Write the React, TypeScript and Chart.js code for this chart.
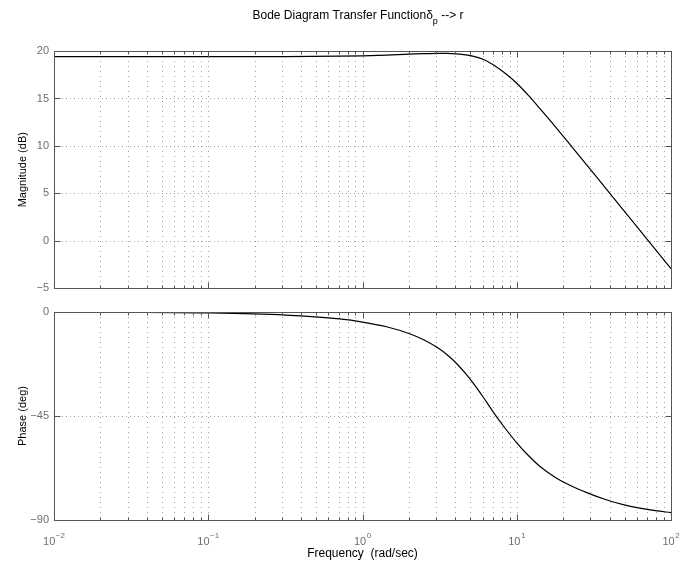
import React, { useEffect, useRef } from 'react';
import { Chart, registerables } from 'chart.js';

Chart.register(...registerables);

const FONT = "'Liberation Sans', Arial, Helvetica, sans-serif";

// ---- text ----
const titleMain = 'Bode Diagram Transfer Function\u03B4';
const titleSub = 'p';
const titleTail = ' --> r';
const magLabel = 'Magnitude (dB)';
const phaseLabel = 'Phase (deg)';
const freqLabel = 'Frequency  (rad/sec)';

// ---- data ----
const magFreq = [0.01, 0.1, 0.316, 0.708, 1, 1.43, 2.04, 2.51, 3.04, 3.55, 4.1, 4.68, 5.25, 6.1, 7.08, 8.41, 10, 11.9, 14.1, 17.7, 22.1, 29, 38, 49, 62.7, 79.4, 100];
const magDb = [19.4, 19.4, 19.41, 19.45, 19.49, 19.57, 19.67, 19.73, 19.76, 19.76, 19.7, 19.59, 19.44, 19.1, 18.52, 17.65, 16.6, 15.32, 13.95, 12.07, 10.17, 7.83, 5.48, 3.28, 1.14, -0.92, -2.92];

const phaseFreq = [0.01, 0.0316, 0.1, 0.316, 0.708, 1, 1.43, 2.04, 2.51, 3.04, 3.55, 4.1, 4.68, 5.25, 6.1, 7.08, 8.41, 10, 11.9, 14.1, 17.7, 22.1, 29, 38, 49, 62.7, 79.4, 100];
const phaseDeg = [-0.04, -0.13, -0.4, -1.35, -3.0, -4.35, -6.4, -9.5, -12.1, -15.3, -18.6, -22.5, -26.8, -31.0, -37.1, -43.5, -50.3, -56.6, -62.1, -66.76, -71.5, -74.95, -78.37, -81.26, -83.35, -84.85, -85.96, -86.8];

// ---- ticks ----
const magTicks = [-5, 0, 5, 10, 15, 20];
const magTickLabels = ['\u22125', '0', '5', '10', '15', '20'];
const phaseTicks = [-90, -45, 0];
const phaseTickLabels = ['\u221290', '\u221245', '0'];
const decadeExps = [-2, -1, 0, 1, 2];
const minorMults = [2, 3, 4, 5, 6, 7, 8, 9];

const xMajor = decadeExps.map((e) => Math.pow(10, e));
const xMinor: number[] = [];
decadeExps.slice(0, -1).forEach((e) => minorMults.forEach((m) => xMinor.push(m * Math.pow(10, e))));

function decorPlugin(yTicks: number[], showXLabels: boolean, showTitle: boolean) {
  return {
    id: 'bodeDecor',
    beforeDatasetsDraw(chart: any) {
      const { ctx, chartArea: a, scales } = chart;
      const xs = scales.x;
      const ys = scales.y;
      ctx.save();
      ctx.strokeStyle = '#a2a2a2';
      ctx.lineWidth = 1;
      ctx.setLineDash([1, 4]);
      ctx.beginPath();
      for (const v of [...xMajor, ...xMinor]) {
        const px = Math.round(xs.getPixelForValue(v)) + 0.5;
        if (px <= a.left + 1 || px >= a.right - 1) continue;
        ctx.moveTo(px, a.top);
        ctx.lineTo(px, a.bottom);
      }
      ctx.stroke();
      ctx.setLineDash([1, 3]);
      ctx.beginPath();
      for (const v of yTicks) {
        const py = Math.round(ys.getPixelForValue(v)) + 0.5;
        if (py <= a.top + 1 || py >= a.bottom - 1) continue;
        ctx.moveTo(a.left, py);
        ctx.lineTo(a.right, py);
      }
      ctx.stroke();
      ctx.restore();
    },
    afterDraw(chart: any) {
      const { ctx, chartArea: a, scales } = chart;
      const xs = scales.x;
      const ys = scales.y;
      const L = Math.round(a.left) + 0.5;
      const R = Math.round(a.right) + 0.5;
      const T = Math.round(a.top) + 0.5;
      const B = Math.round(a.bottom) + 0.5;
      ctx.save();
      ctx.strokeStyle = '#555';
      ctx.lineWidth = 1;
      ctx.beginPath();
      const addX = (v: number, len: number) => {
        const px = Math.round(xs.getPixelForValue(v)) + 0.5;
        ctx.moveTo(px, T);
        ctx.lineTo(px, T + len);
        ctx.moveTo(px, B);
        ctx.lineTo(px, B - len);
      };
      xMajor.forEach((v) => addX(v, 6));
      xMinor.forEach((v) => addX(v, 3));
      yTicks.forEach((v) => {
        const py = Math.round(ys.getPixelForValue(v)) + 0.5;
        ctx.moveTo(L, py);
        ctx.lineTo(L + 6, py);
        ctx.moveTo(R, py);
        ctx.lineTo(R - 6, py);
      });
      ctx.stroke();
      ctx.strokeRect(L, T, R - L, B - T);

      if (showXLabels) {
        ctx.fillStyle = '#6e6e6e';
        ctx.textBaseline = 'alphabetic';
        ctx.textAlign = 'left';
        decadeExps.forEach((e) => {
          const px = xs.getPixelForValue(Math.pow(10, e));
          ctx.font = `11px ${FONT}`;
          const w1 = ctx.measureText('10').width;
          const expStr = e < 0 ? '\u2212' + Math.abs(e) : String(e);
          ctx.font = `8px ${FONT}`;
          const w2 = ctx.measureText(expStr).width;
          const start = px - (w1 + w2 + 0.5) / 2;
          ctx.font = `11px ${FONT}`;
          ctx.fillText('10', start, a.bottom + 25);
          ctx.font = `8px ${FONT}`;
          ctx.fillText(expStr, start + w1 + 0.5, a.bottom + 18);
        });
      }

      if (showTitle) {
        ctx.fillStyle = '#000';
        ctx.textAlign = 'left';
        ctx.textBaseline = 'alphabetic';
        ctx.font = `12px ${FONT}`;
        const w1 = ctx.measureText(titleMain).width;
        const w3 = ctx.measureText(titleTail).width;
        ctx.font = `9px ${FONT}`;
        const w2 = ctx.measureText(titleSub).width;
        const start = 358 - (w1 + w2 + w3) / 2;
        ctx.font = `12px ${FONT}`;
        ctx.fillText(titleMain, start, 19);
        ctx.font = `9px ${FONT}`;
        ctx.fillText(titleSub, start + w1, 23.5);
        ctx.font = `12px ${FONT}`;
        ctx.fillText(titleTail, start + w1 + w2, 19);
      }
      ctx.restore();
    },
  };
}

function yScale(ticks: number[], labels: string[], min: number, max: number, title: string) {
  return {
    type: 'linear',
    min,
    max,
    afterBuildTicks: (s: any) => {
      s.ticks = ticks.map((v) => ({ value: v }));
    },
    afterFit: (s: any) => {
      s.width = 54;
    },
    grid: { display: false, drawTicks: false },
    border: { display: false },
    ticks: {
      color: '#6e6e6e',
      font: { size: 11, family: FONT },
      padding: 5,
      autoSkip: false,
      callback: (v: any) => {
        const i = ticks.indexOf(Number(v));
        return i >= 0 ? labels[i] : '';
      },
    },
    title: {
      display: true,
      text: title,
      color: '#000',
      font: { size: 11, family: FONT },
      padding: { top: 16, bottom: 0 },
    },
  };
}

export default function App() {
  const topRef = useRef<HTMLCanvasElement | null>(null);
  const botRef = useRef<HTMLCanvasElement | null>(null);

  useEffect(() => {
    const top = new Chart(topRef.current as HTMLCanvasElement, {
      type: 'line',
      data: {
        datasets: [
          {
            data: magFreq.map((f, i) => ({ x: f, y: magDb[i] })),
            borderColor: '#000',
            borderWidth: 1.2,
            pointRadius: 0,
            cubicInterpolationMode: 'monotone',
            fill: false,
          },
        ],
      },
      options: {
        animation: false,
        responsive: false,
        events: [],
        layout: { padding: { left: 0, right: 9, top: 51, bottom: 9 } },
        plugins: { legend: { display: false }, tooltip: { enabled: false }, title: { display: false } },
        scales: {
          x: { type: 'logarithmic', min: 0.01, max: 100, display: false },
          y: yScale(magTicks, magTickLabels, -5, 20, magLabel) as any,
        },
      },
      plugins: [decorPlugin(magTicks, false, true) as any],
    } as any);

    const bot = new Chart(botRef.current as HTMLCanvasElement, {
      type: 'line',
      data: {
        datasets: [
          {
            data: phaseFreq.map((f, i) => ({ x: f, y: phaseDeg[i] })),
            borderColor: '#000',
            borderWidth: 1.2,
            pointRadius: 0,
            cubicInterpolationMode: 'monotone',
            fill: false,
          },
        ],
      },
      options: {
        animation: false,
        responsive: false,
        events: [],
        layout: { padding: { left: 0, right: 9, top: 12, bottom: 0 } },
        plugins: { legend: { display: false }, tooltip: { enabled: false } },
        scales: {
          x: {
            type: 'logarithmic',
            min: 0.01,
            max: 100,
            grid: { display: false, drawTicks: false },
            border: { display: false },
            ticks: { display: false },
            afterFit: (s: any) => {
              s.height = 44;
            },
            title: {
              display: true,
              text: freqLabel,
              color: '#000',
              font: { size: 12, family: FONT },
              padding: { top: 0, bottom: 3 },
            },
          },
          y: yScale(phaseTicks, phaseTickLabels, -90, 0, phaseLabel) as any,
        },
      },
      plugins: [decorPlugin(phaseTicks, true, false) as any],
    } as any);

    return () => {
      top.destroy();
      bot.destroy();
    };
  }, []);

  return (
    <div style={{ position: 'absolute', left: 0, top: 0, width: 680, height: 564, background: '#fff' }}>
      <canvas ref={topRef} width={680} height={300} style={{ position: 'absolute', left: 0, top: 0, display: 'block' }} />
      <canvas ref={botRef} width={680} height={264} style={{ position: 'absolute', left: 0, top: 300, display: 'block' }} />
    </div>
  );
}
